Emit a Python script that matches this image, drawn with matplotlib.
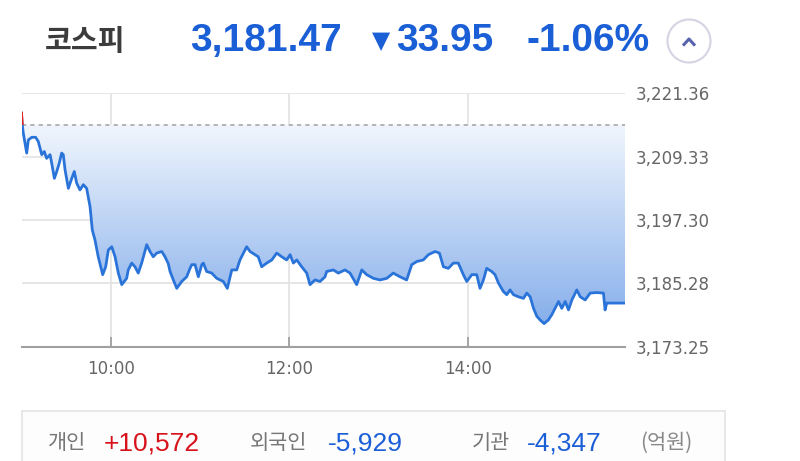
import numpy as np
import matplotlib
matplotlib.use('Agg')
import matplotlib.pyplot as plt
from matplotlib.colors import LinearSegmentedColormap
from matplotlib.patches import Rectangle, Ellipse
from matplotlib.lines import Line2D

# ---- data ----
minutes = [0.0, 0.5, 1.2, 3.5, 4.6, 6.9, 9.5, 11.3, 13.6, 15.3, 16.9, 19.2, 20.3, 22.1, 23.7,
           25.4, 27.0, 28.1, 29.3, 31.5, 33.8, 35.5, 37.1, 39.3, 41.6, 43.8, 46.1, 47.6, 49.4,
           51.6, 54.6, 56.6, 58.4, 60.7, 62.9, 65.1, 67.4, 70.7, 71.8, 74.1, 76.3, 78.5, 80.8,
           84.2, 86.4, 88.6, 90.9, 94.3, 96.5, 98.7, 99.9, 102.1, 104.4, 107.7, 108.8, 111.1,
           113.3, 114.5, 116.7, 118.9, 121.2, 122.3, 124.5, 127.9, 131.3, 135.7, 138.4, 141.4,
           144.7, 146.9, 149.2, 151.4, 153.7, 157.0, 159.2, 161.5, 164.9, 168.3, 171.6, 175.0,
           178.3, 180.6, 182.8, 185.1, 188.4, 191.8, 194.0, 197.4, 200.7, 204.1, 205.2, 209.7,
           213.0, 217.5, 220.9, 225.4, 228.8, 232.1, 236.6, 241.1, 245.6, 250.0, 254.5, 259.0,
           262.4, 265.8, 270.2, 273.6, 278.1, 281.0, 283.7, 287.0, 290.4, 293.7, 297.1, 299.4,
           302.8, 306.1, 308.3, 310.6, 312.8, 316.2, 318.4, 320.7, 324.0, 326.3, 328.5, 330.8,
           334.1, 337.5, 339.8, 342.0, 344.3, 346.5, 348.7, 351.4, 354.3, 356.6, 358.8, 361.1,
           363.3, 365.6, 367.8, 370.1, 373.4, 375.7, 379.0, 382.4, 386.8, 391.3, 392.4, 393.5,
           405.8]
prices = [3217.6, 3215.4, 3213.8, 3210.0, 3212.5, 3213.0, 3213.0, 3212.2, 3209.7, 3210.3, 3209.0,
          3209.7, 3208.1, 3205.2, 3206.5, 3208.1, 3210.0, 3209.7, 3206.8, 3203.3, 3205.2, 3206.5,
          3204.3, 3203.0, 3204.0, 3203.3, 3199.8, 3195.4, 3193.5, 3190.3, 3186.9, 3188.4, 3191.6,
          3192.2, 3190.3, 3187.2, 3185.0, 3186.2, 3187.8, 3189.1, 3188.4, 3187.2, 3189.1, 3192.6,
          3191.3, 3190.3, 3191.0, 3191.3, 3190.3, 3189.0, 3187.5, 3185.9, 3184.3, 3185.6, 3185.9,
          3186.5, 3188.1, 3188.8, 3188.8, 3186.5, 3188.8, 3189.1, 3187.5, 3187.2, 3186.2, 3185.6,
          3184.3, 3187.8, 3187.8, 3189.7, 3191.0, 3192.2, 3191.3, 3190.7, 3190.3, 3188.4, 3189.1,
          3189.7, 3191.0, 3190.3, 3189.7, 3190.7, 3189.1, 3189.7, 3188.4, 3187.2, 3185.0, 3185.9,
          3185.6, 3186.5, 3187.5, 3187.8, 3187.2, 3187.8, 3187.2, 3185.0, 3187.8, 3186.9, 3186.2,
          3185.9, 3186.2, 3187.2, 3186.5, 3185.9, 3188.8, 3189.4, 3189.7, 3190.7, 3191.3, 3191.0,
          3188.4, 3188.1, 3189.1, 3189.1, 3186.9, 3185.6, 3186.9, 3186.9, 3184.3, 3185.9, 3188.1,
          3187.5, 3186.9, 3185.3, 3183.7, 3183.1, 3184.0, 3183.1, 3182.7, 3182.4, 3183.4, 3182.7,
          3180.5, 3179.0, 3178.3, 3177.6, 3178.3, 3179.3, 3180.5, 3181.8, 3180.5, 3181.8, 3180.2,
          3182.1, 3184.0, 3182.7, 3182.1, 3183.4, 3183.5, 3183.4, 3180.2, 3181.5, 3181.5]
prev_close = 3215.42
y_ticks = [3173.25, 3185.28, 3197.30, 3209.33, 3221.36]
x_ticks = [60, 180, 300]
x_labels = ['10:00', '12:00', '14:00']

index_name = '코스피'
last_price = '3,181.47'
change = '33.95'
change_pct = '-1.06%'
investors = ['개인', '외국인', '기관']
net_buy = ['+10,572', '-5,929', '-4,347']
unit = '(억원)'

KR = ['Noto Sans CJK KR', 'DejaVu Sans']
NUM = ['Liberation Sans', 'DejaVu Sans']
BLUE = '#1b5fd6'
RED = '#d8121a'

W, H = 800, 461
fig = plt.figure(figsize=(W / 100, H / 100), dpi=100)

def fx(px):
    return px / W

def fy(py):
    return 1 - py / H

ax = fig.add_axes([fx(21.5), fy(346.5), fx(625) - fx(21.5), fy(93.3) - fy(346.5)])
ax.set_xlim(0, 405.8)
ax.set_ylim(y_ticks[0], y_ticks[-1])

# gradient fill between price and previous close
cmap = LinearSegmentedColormap.from_list('g', ['#7ba7e9', '#f1f6fd'])
grad = np.linspace(0, 1, 256).reshape(-1, 1)
im = ax.imshow(grad, cmap=cmap, aspect='auto', origin='lower',
               extent=[0, 405.8, y_ticks[0], prev_close], zorder=1)
poly = ax.fill_between(minutes, prices, prev_close, color='none', lw=0)
im.set_clip_path(poly.get_paths()[0], transform=ax.transData)

# grid
for v in y_ticks[1:]:
    ax.axhline(v, color='#e4e4e4', lw=1.3, zorder=0.5)
for t in x_ticks:
    ax.axvline(t, color='#e4e4e4', lw=1.3, zorder=0.5)

ax.axhline(prev_close, color='#a8a8a8', lw=1.2, ls=(0, (2.5, 2.5)), zorder=2)

ax.plot(minutes, prices, color='#2a74d9', lw=2.0, zorder=3, solid_joinstyle='round')
red, = ax.plot(minutes, prices, color='#e8241c', lw=2.0, zorder=4)
red.set_clip_path(Rectangle((0, prev_close), 406, 20, transform=ax.transData))

for s in ['top', 'left', 'right']:
    ax.spines[s].set_visible(False)
ax.spines['bottom'].set_color('#a0a0a0')
ax.spines['bottom'].set_linewidth(1.5)

ax.yaxis.tick_right()
ax.set_yticks(y_ticks)
ax.set_yticklabels(['{:,.2f}'.format(v) for v in y_ticks])
ax.tick_params(axis='y', length=0, pad=8, labelsize=12, labelcolor='#666666')
ax.set_xticks(x_ticks)
ax.set_xticklabels(x_labels)
ax.tick_params(axis='x', direction='in', length=7, width=1.3, color='#a0a0a0',
               pad=10, labelsize=12, labelcolor='#666666')

# header
fig.text(fx(45), fy(41), index_name, family=KR, fontsize=21, weight='bold',
         color='#3c3c3c', va='center', ha='left')
fig.text(fx(190), fy(41), last_price, family=NUM, fontsize=28, weight='bold',
         color=BLUE, va='center', ha='left')
fig.text(fx(372), fy(41), '▼', family=['DejaVu Sans'], fontsize=17,
         color=BLUE, va='center', ha='left')
fig.text(fx(396), fy(41), change, family=NUM, fontsize=28, weight='bold',
         color=BLUE, va='center', ha='left')
fig.text(fx(526), fy(41), change_pct, family=NUM, fontsize=28, weight='bold',
         color=BLUE, va='center', ha='left')
fig.patches.append(Ellipse((fx(689), fy(41)), fx(43), 43 / H, transform=fig.transFigure,
                           facecolor='white', edgecolor='#d4d4e4', lw=1.5))
fig.lines.append(Line2D([fx(684), fx(689), fx(694)], [fy(44.5), fy(39), fy(44.5)],
                        transform=fig.transFigure, color='#5763ad', lw=2.2))

# investor box
fig.patches.append(Rectangle((fx(22), fy(470)), fx(725) - fx(22), fy(411) - fy(470),
                             transform=fig.transFigure, facecolor='#fdfdfd',
                             edgecolor='#e4e4e4', lw=1.2))
lab_x = [48, 250, 472]
val_x = [104, 328, 527]
for name, val, lx, vx in zip(investors, net_buy, lab_x, val_x):
    fig.text(fx(lx), fy(443), name, family=KR, fontsize=15, weight='light',
             color='#777777', va='center', ha='left')
    fig.text(fx(vx), fy(443), val, family=NUM, fontsize=19,
             color=RED if val.startswith('+') else BLUE, va='center', ha='left')
fig.text(fx(640), fy(443), unit, family=KR, fontsize=15, weight='light',
         color='#888888', va='center', ha='left')

fig.savefig('out.png', dpi=100)
